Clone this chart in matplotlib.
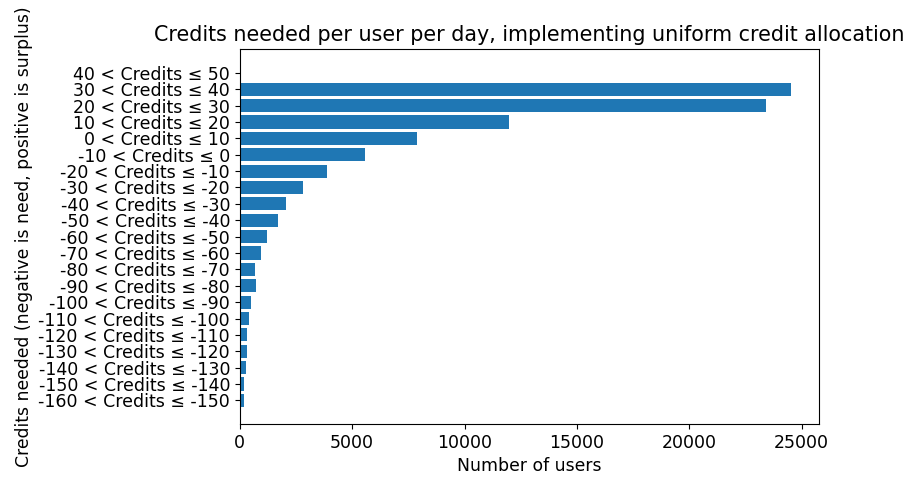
import matplotlib
matplotlib.use("Agg")
import matplotlib.pyplot as plt

categories = [
    "-160 < Credits ≤ -150", "-150 < Credits ≤ -140", "-140 < Credits ≤ -130",
    "-130 < Credits ≤ -120", "-120 < Credits ≤ -110", "-110 < Credits ≤ -100",
    "-100 < Credits ≤ -90", "-90 < Credits ≤ -80", "-80 < Credits ≤ -70",
    "-70 < Credits ≤ -60", "-60 < Credits ≤ -50", "-50 < Credits ≤ -40",
    "-40 < Credits ≤ -30", "-30 < Credits ≤ -20", "-20 < Credits ≤ -10",
    "-10 < Credits ≤ 0", "0 < Credits ≤ 10", "10 < Credits ≤ 20",
    "20 < Credits ≤ 30", "30 < Credits ≤ 40", "40 < Credits ≤ 50",
]
users = [180, 180, 270, 330, 330, 400, 490, 740, 670, 950, 1190, 1700,
         2040, 2800, 3880, 5570, 7890, 12000, 23400, 24550, 0]

fig = plt.figure(figsize=(9.05, 4.78), dpi=100)
ax = fig.add_axes([0.265, 0.113, 0.64, 0.784])
ax.barh(categories, users, color="#1f77b4")
ax.set_title("Credits needed per user per day, implementing uniform credit allocation",
             fontsize=14.9, pad=6)
ax.set_xlabel("Number of users", fontsize=12.4)
ax.set_ylabel("Credits needed (negative is need, positive is surplus)", fontsize=12.4)
ax.tick_params(axis="both", labelsize=12.5)
fig.savefig("out.png", dpi=100)
